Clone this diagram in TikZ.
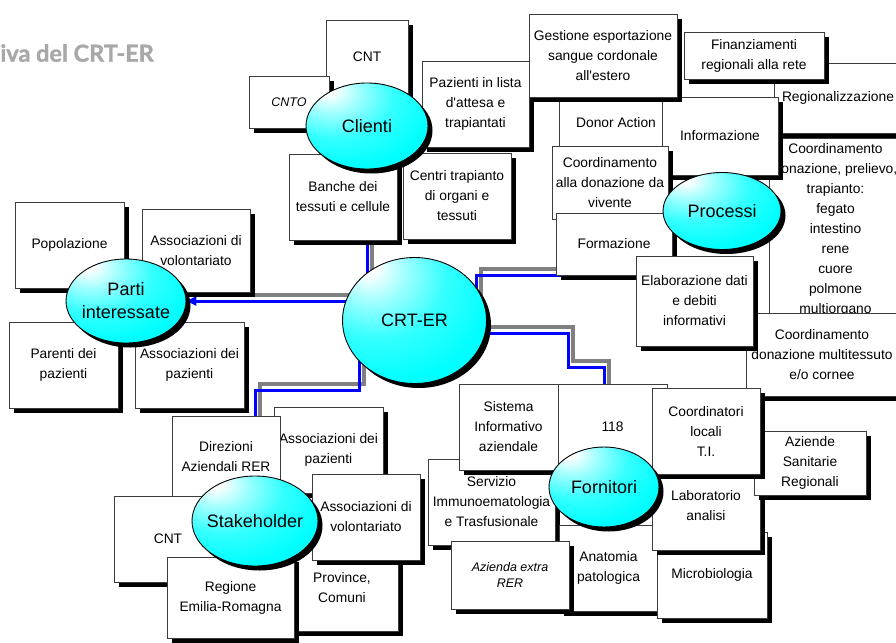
\documentclass[tikz,border=0pt]{standalone}
\usepackage{fontspec}
\setmainfont{Liberation Sans}
\newfontfamily\titlefont{Lato}[BoldFeatures={FakeBold=1.3}]
\usetikzlibrary{shapes.geometric,shadows,arrows.meta}
\definecolor{cy}{RGB}{0,255,255}
\definecolor{bl}{RGB}{0,0,255}
\definecolor{gr}{RGB}{128,128,128}
\definecolor{ttl}{RGB}{168,168,168}
\definecolor{edge}{RGB}{60,60,60}
\pgfdeclareradialshading{glow}{\pgfpoint{-17bp}{22bp}}{color(0bp)=(white); color(3bp)=(white); color(12bp)=(cy!38!white); color(24bp)=(cy!80!white); color(38bp)=(cy); color(100bp)=(cy)}
\pgfdeclarelayer{bgl}
\pgfdeclarelayer{lnl}
\pgfsetlayers{bgl,lnl,main}
\newcommand\bx[7][]{%
  \pgfmathsetmacro\bxw{#5-#3}\pgfmathsetmacro\bxh{#6-#4}%
  \pgfmathsetmacro\bxx{(#3+#5)/2}\pgfmathsetmacro\bxy{(#4+#6)/2}%
  \node[boxs,minimum width=\bxw pt,minimum height=\bxh pt,#1] (#2) at (\bxx,\bxy) {#7};}
\newcommand\px[7][]{%
  \pgfmathsetmacro\bxw{#5-#3}\pgfmathsetmacro\bxh{#6-#4}%
  \pgfmathsetmacro\bxx{(#3+#5)/2}\pgfmathsetmacro\bxy{(#4+#6)/2}%
  \node[plainbox,minimum width=\bxw pt,minimum height=\bxh pt,#1] (#2) at (\bxx,\bxy) {#7};}
\begin{document}
\begin{tikzpicture}[x=1pt,y=-1pt,
  plainbox/.style={rectangle, draw=edge, line width=0.9pt, fill=white, inner sep=0pt, align=center,
    font=\fontsize{13.8pt}{20pt}\selectfont},
  boxs/.style={plainbox, drop shadow={shadow xshift=5pt, shadow yshift=-5pt, fill=black, opacity=1}},
  itx/.style={font=\fontsize{12.5pt}{16.6pt}\selectfont\itshape},
  ell/.style={ellipse, draw=black, line width=0.9pt, shade, shading=glow, inner sep=-10pt, align=center,
    font=\fontsize{18pt}{23pt}\selectfont,
    drop shadow={shadow xshift=4.5pt, shadow yshift=-4.5pt, fill=black, opacity=1}},
  bln/.style={draw=bl, line width=3pt},
  grn/.style={draw=gr, line width=4pt, transform canvas={xshift=5pt,yshift=6pt}}]
\useasboundingbox (0,0) rectangle (896,642);
\begin{pgfonlayer}{bgl}
\fill[white] (0,0) rectangle (896,642);
\end{pgfonlayer}
\node[anchor=base east, inner sep=0pt, text=ttl, font={\titlefont\bfseries\fontsize{23.5pt}{26pt}\selectfont}] (title) at (154,61.7) {iva del CRT-ER};
% Parti interessate
\bx{popol}{15}{202}{124}{288}{Popolazione}
\bx{pvol}{142}{209}{250}{292}{Associazioni di\\volontariato}
\bx{paren}{9}{322}{118}{408}{Parenti dei\\pazienti}
\bx{ppaz}{135}{322}{244}{408}{Associazioni dei\\pazienti}
% Clienti
\bx{ccnt}{326}{20}{408}{93}{CNT}
\bx[itx]{ccnto}{249}{76}{329}{128}{CNTO}
\bx{cpaz}{422}{61}{529}{147}{Pazienti in lista\\d\textquotesingle attesa e\\trapiantati}
\bx{cbanche}{289}{154}{397}{240}{Banche dei\\tessuti e cellule}
\bx{ccentri}{403}{153}{511}{239}{Centri trapianto\\di organi e\\tessuti}
% Processi
\bx{regional}{774}{63}{902}{133}{Regionalizzazione}
\bx{finanz}{684}{32}{824}{79}{Finanziamenti\\regionali alla rete}
\bx{coordprel}{769}{138}{902}{321}{Coordinamento\\donazione, prelievo,\\trapianto:\\fegato\\intestino\\rene\\cuore\\polmone\\multiorgano}
\bx{multit}{746}{313}{898}{396}{Coordinamento\\donazione multitessuto\\e/o cornee}
\bx{donor}{559}{88}{673}{158}{Donor Action}
\bx{inform}{662}{97}{778}{175}{Informazione}
\bx{gestione}{529}{14}{677}{97}{Gestione esportazione\\sangue cordonale\\all\textquotesingle estero}
\bx{coordviv}{552}{146}{668}{219}{Coordinamento\\alla donazione da\\vivente}
\bx{formaz}{556}{213}{672}{275}{Formazione}
\bx{elab}{636}{256}{753}{346}{Elaborazione dati\\e debiti\\informativi}
% Stakeholder
\bx{spaz}{274}{407}{383}{493}{Associazioni dei\\pazienti}
\px{sdir}{172}{416}{280}{498}{Direzioni\\Aziendali RER}
\bx{scnt}{114}{496}{222}{582}{CNT}
\bx{sprov}{286}{544}{398}{631}{Province,\\Comuni}
\bx{sreg}{167}{557}{294}{638}{Regione\\Emilia-Romagna}
\bx{svol}{312}{474}{420}{560}{Associazioni di\\volontariato}
% Fornitori
\bx{fserv}{428}{459}{555}{545}{Servizio\\Immunoematologia\\e Trasfusionale}
\bx{fsis}{459}{384}{558}{470}{Sistema\\Informativo\\aziendale}
\bx{f118}{558}{384}{667}{470}{118}
\bx{fanat}{559}{525}{658}{611}{Anatomia\\patologica}
\bx[itx]{fazi}{451}{541}{569}{609}{Azienda extra\\RER}
\bx{fmicro}{657}{532}{767}{618}{Microbiologia}
\bx{flab}{652}{462}{760}{550}{Laboratorio\\analisi}
\bx{fazsan}{754}{431}{866}{495}{Aziende\\Sanitarie\\Regionali}
\bx{fcoord}{652}{388}{760}{474}{Coordinatori\\locali\\T.I.}
% Ellipses
\node[ell, minimum width=122pt, minimum height=86pt] (clienti) at (367,126) {Clienti};
\node[ell, minimum width=118pt, minimum height=77pt] (processi) at (722,211) {Processi};
\node[ell, minimum width=120pt, minimum height=84pt] (parti) at (126,301) {Parti\\interessate};
\node[ell, minimum width=126pt, minimum height=90pt] (stake) at (255,521) {Stakeholder};
\node[ell, minimum width=110pt, minimum height=80pt] (fornitori) at (604,487) {Fornitori};
\node[ell, minimum width=144pt, minimum height=126pt] (crt) at (414.5,320.5) {CRT-ER};
% Connectors
\coordinate (pA) at (476,275);
\coordinate (pB) at (640,275);
\coordinate (fA) at (568,333);
\coordinate (fB) at (604,367);
\coordinate (sA) at (359,390);
\begin{pgfonlayer}{lnl}
\draw[grn] (crt.center) -| (clienti.center);
\draw[grn] (crt.center) -| (pA) -- (pB) |- (processi.center);
\draw[grn] (crt.center |- fA) -- (fA) |- (fB) -- (fornitori.center);
\draw[grn] (crt.center) -| (sA) -| (stake.center);
\draw[grn] (crt.center |- parti.east) -- (parti.east);
\draw[bln] (crt.center) -| (clienti.center);
\draw[bln] (crt.center) -| (pA) -- (pB) |- (processi.center);
\draw[bln] (crt.center |- fA) -- (fA) |- (fB) -- (fornitori.center);
\draw[bln] (crt.center) -| (sA) -| (stake.center);
\draw[bln, -{Triangle[length=10pt,width=9pt]}] (crt.center |- parti.east) -- (parti.east);
\end{pgfonlayer}
\end{tikzpicture}
\end{document}
